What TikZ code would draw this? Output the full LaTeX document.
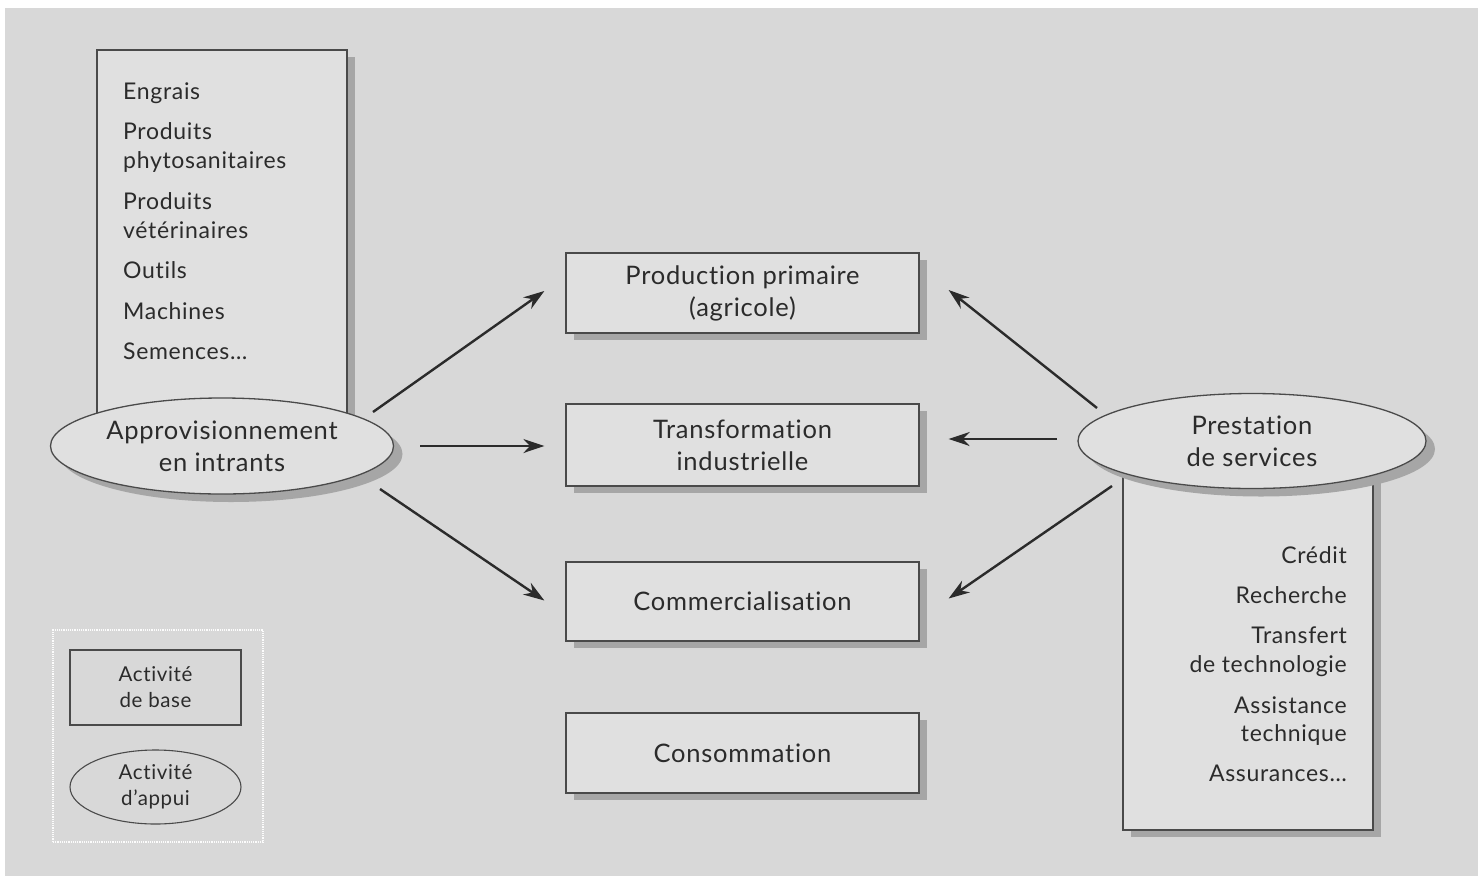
\documentclass[tikz,border=0pt]{standalone}
\usepackage{fontspec}
\setmainfont{Lato}[Ligatures={NoCommon}, LetterSpace=3]
\usetikzlibrary{shapes.geometric,shadows,arrows.meta,calc}
\definecolor{bg}{HTML}{D8D8D8}
\definecolor{boxfill}{HTML}{E0E0E0}
\definecolor{shad}{HTML}{A6A6A6}
\definecolor{ink}{HTML}{2B2B2B}
\definecolor{edge}{HTML}{4A4A4A}
\tikzset{
  mainfont/.style={font=\fontsize{25.5}{32}\selectfont, text=ink},
  listfont/.style={font=\fontsize{23}{29}\selectfont, text=ink, inner sep=0pt},
  legfont/.style={font=\fontsize{20.5}{26}\selectfont, text=ink},
  basebox/.style={draw=edge, line width=1.3pt, fill=boxfill, rectangle,
    minimum width=353pt, minimum height=80pt, align=center, mainfont,
    drop shadow={shadow xshift=8pt, shadow yshift=-7pt, fill=shad, opacity=1}},
  listbox/.style={draw=edge, line width=1.3pt, fill=boxfill, rectangle,
    minimum width=250pt, inner sep=0pt,
    drop shadow={shadow xshift=8pt, shadow yshift=-7pt, fill=shad, opacity=1}},
  support/.style={draw=edge, line width=1.3pt, fill=boxfill, ellipse,
    minimum width=343pt, minimum height=96pt, inner sep=0pt, align=center, mainfont,
    drop shadow={shadow xshift=9pt, shadow yshift=-8pt, fill=shad, opacity=1}},
  flow/.style={draw=ink, line width=2.4pt, -{Stealth[length=21pt,width=14pt]}},
}
\begin{document}
\begin{tikzpicture}[x=1pt,y=-1pt]
\useasboundingbox (0,0) rectangle (1481,879);
\fill[white] (0,0) rectangle (1481,879);
\fill[bg] (5,8) rectangle (1478,876);

% list boxes
\node[listbox, minimum height=370pt] (inlist) at (222,235) {};
\node[listbox, minimum height=360pt] (svlist) at (1248,650) {};

% support activities
\node[support] (appro) at (222,446) {Approvisionnement\\en intrants};
\node[support, minimum width=348pt, minimum height=95pt] (prest) at (1252,441) {Prestation\\de services};

% basic activities
\node[basebox] (prod) at (742.5,293) {Production primaire\\(agricole)};
\node[basebox, minimum height=82pt] (trans) at (742.5,445) {Transformation\\industrielle};
\node[basebox, minimum height=79pt] (comm) at (742.5,601.5) {Commercialisation};
\node[basebox] (cons) at (742.5,753) {Consommation};

% inputs list
\node[listfont, anchor=base west] (l1) at (123,99) {Engrais};
\node[listfont, anchor=base west] (l2) at (123,139) {Produits};
\node[listfont, anchor=base west] (l3) at (123,168) {phytosanitaires};
\node[listfont, anchor=base west] (l4) at (123,209) {Produits};
\node[listfont, anchor=base west] (l5) at (123,238) {vétérinaires};
\node[listfont, anchor=base west] (l6) at (123,278) {Outils};
\node[listfont, anchor=base west] (l7) at (123,319) {Machines};
\node[listfont, anchor=base west] (l8) at (123,359) {Semences…};

% services list
\node[listfont, anchor=base east] (r1) at (1347,563) {Crédit};
\node[listfont, anchor=base east] (r2) at (1347,603) {Recherche};
\node[listfont, anchor=base east] (r3) at (1347,643) {Transfert};
\node[listfont, anchor=base east] (r4) at (1347,672) {de technologie};
\node[listfont, anchor=base east] (r5) at (1347,713) {Assistance};
\node[listfont, anchor=base east] (r6) at (1347,741) {technique};
\node[listfont, anchor=base east] (r7) at (1347,781) {Assurances…};

% legend
\node[draw=white!92!bg, line width=1.2pt, densely dotted, minimum width=210pt, minimum height=212pt] (legend) at (158,736) {};
\node[draw=edge, line width=1.1pt, rectangle, minimum width=171pt, minimum height=75pt, align=center, legfont] (legbase) at (155.5,687.5) {Activité\\de base};
\node[draw=edge, line width=1.1pt, ellipse, minimum width=171pt, minimum height=74pt, inner sep=0pt, align=center, legfont] (legsupp) at (155.5,787) {Activité\\d’appui};

% arrows from inputs
\draw[flow] ($(appro.center)+(151,-34)$) -- ($(prod.west)+(-21,-2)$);
\draw[flow] ($(appro.center)+(198,0)$) -- ($(trans.west)+(-21,1)$);
\draw[flow] ($(appro.center)+(158,43)$) -- ($(comm.west)+(-21,-1)$);

% arrows from services
\draw[flow] ($(prest.center)+(-155,-33)$) -- ($(prod.east)+(29,-3)$);
\draw[flow] ($(prest.center)+(-195,-2)$) -- ($(trans.east)+(29,-6)$);
\draw[flow] ($(prest.center)+(-140,45)$) -- ($(comm.east)+(29,-3)$);
\end{tikzpicture}
\end{document}
